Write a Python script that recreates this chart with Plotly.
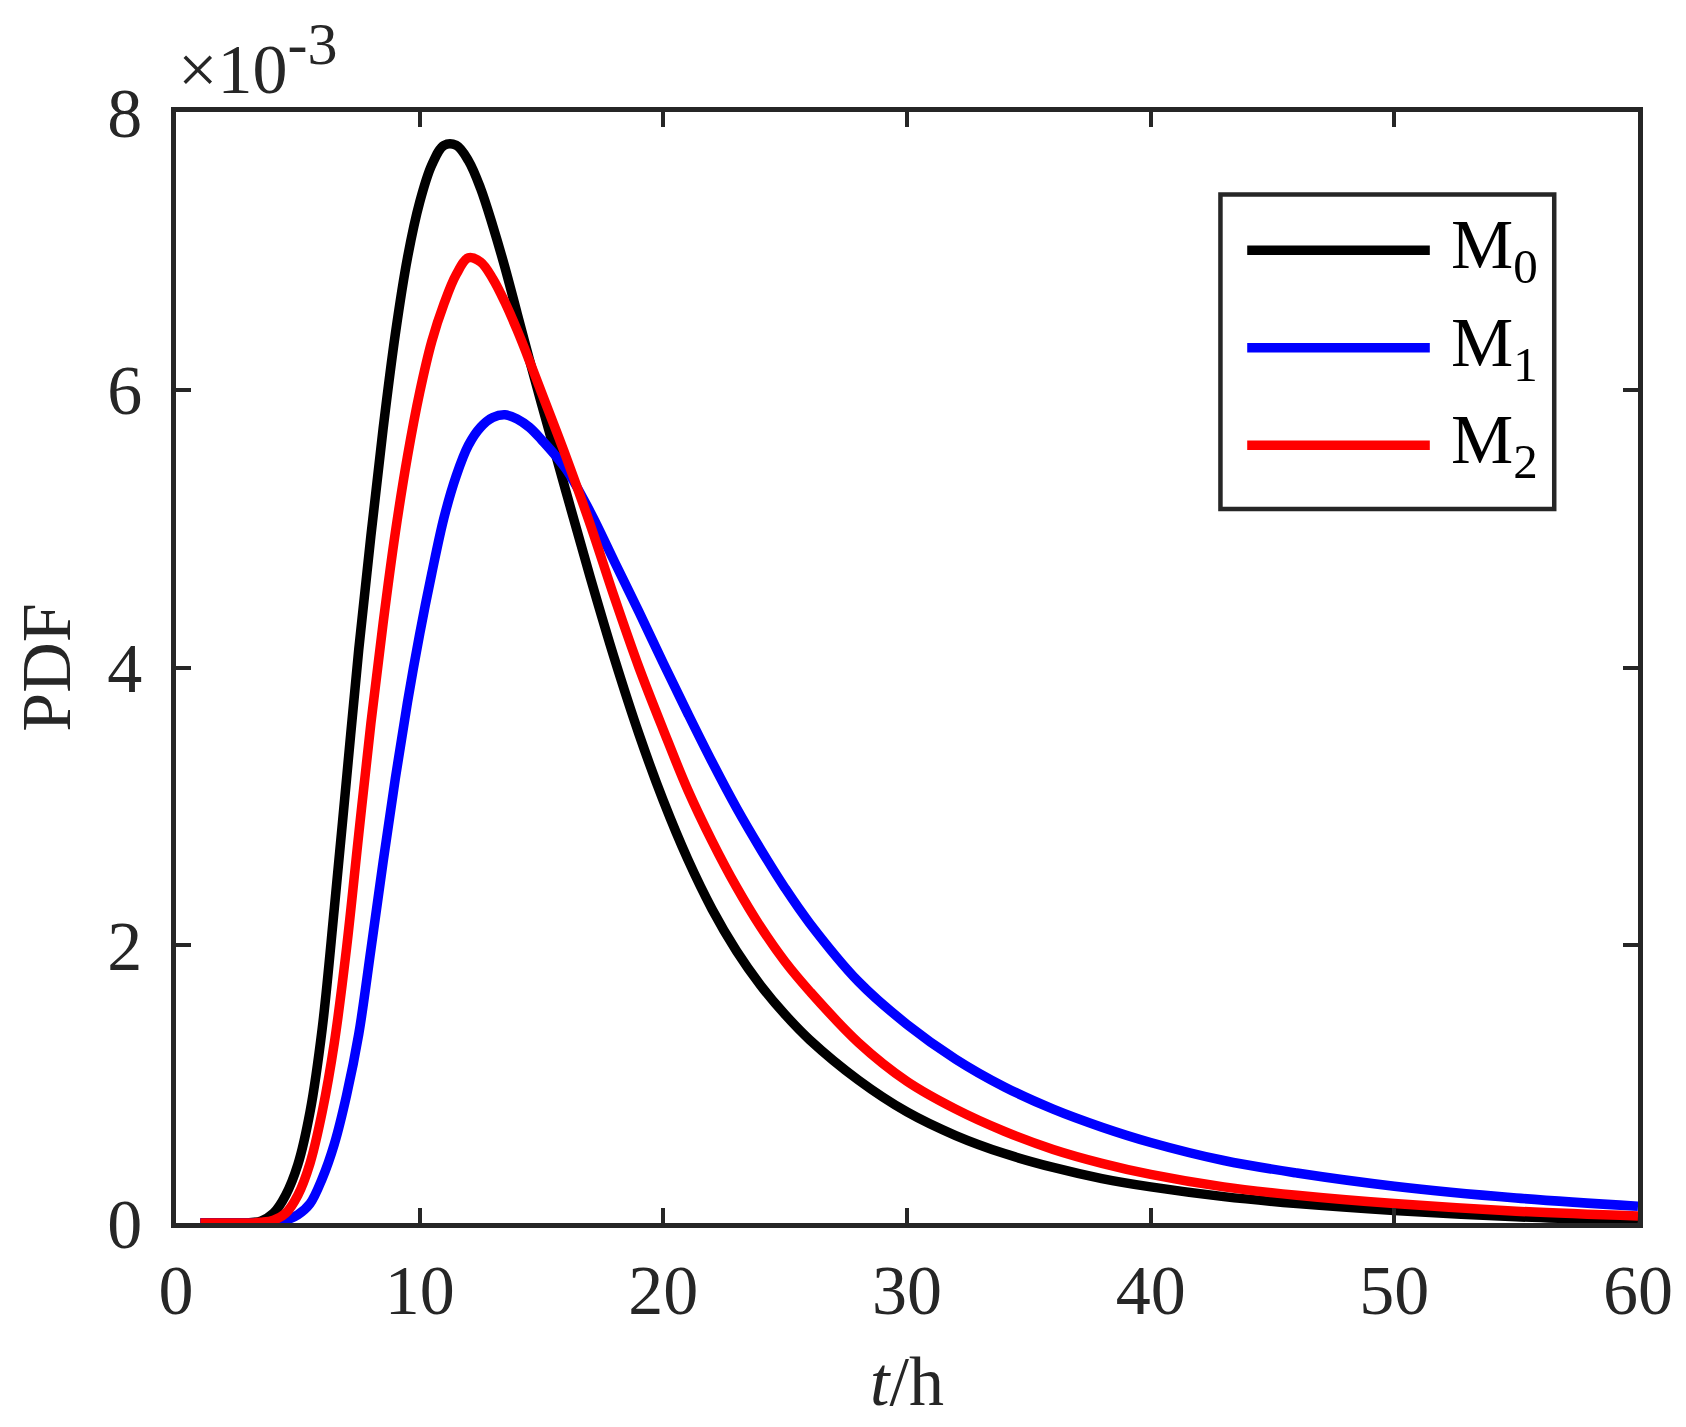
import plotly.graph_objects as go

# time grid (h)
t = [1, 2, 3, 3.5, 4, 4.5, 5, 5.5, 6, 6.5, 7, 7.5, 8, 8.5, 9, 9.5, 10, 10.5,
     11, 11.5, 12, 12.5, 13, 13.5, 14, 14.5, 15, 16, 17, 18, 19, 20, 21, 22,
     23, 24, 25, 26, 28, 30, 32, 34, 36, 38, 40, 43, 46, 50, 55, 60]

# PDF values, in units of 1e-3
pdf_m0 = [0, 0, 0.002, 0.015, 0.07, 0.2, 0.42, 0.8, 1.4, 2.27, 3.2, 4.13, 4.95, 5.72,
          6.4, 6.95, 7.35, 7.62, 7.76, 7.76, 7.65, 7.45, 7.18, 6.88, 6.55, 6.22, 5.9,
          5.27, 4.65, 4.06, 3.52, 3.04, 2.62, 2.26, 1.96, 1.71, 1.5, 1.32, 1.03, 0.8,
          0.63, 0.5, 0.4, 0.32, 0.26, 0.19, 0.14, 0.09, 0.045, 0.018]
pdf_m1 = [0, 0, 0, 0, 0.005, 0.02, 0.06, 0.14, 0.32, 0.57, 0.92, 1.36, 1.97, 2.6,
          3.2, 3.75, 4.24, 4.68, 5.08, 5.38, 5.6, 5.73, 5.8, 5.82, 5.79, 5.73, 5.64,
          5.43, 5.12, 4.76, 4.4, 4.03, 3.67, 3.32, 2.99, 2.69, 2.41, 2.16, 1.74, 1.43,
          1.18, 0.98, 0.82, 0.69, 0.58, 0.45, 0.36, 0.265, 0.18, 0.12]
pdf_m2 = [0, 0, 0, 0.005, 0.02, 0.07, 0.2, 0.43, 0.8, 1.3, 1.98, 2.8, 3.6, 4.32,
          4.97, 5.52, 5.98, 6.35, 6.62, 6.83, 6.95, 6.92, 6.8, 6.63, 6.43, 6.21, 5.98,
          5.52, 5.03, 4.5, 4.0, 3.55, 3.12, 2.75, 2.42, 2.13, 1.88, 1.67, 1.3, 1.02,
          0.82, 0.66, 0.53, 0.43, 0.35, 0.26, 0.2, 0.14, 0.085, 0.05]

names = ['M<sub>0</sub>', 'M<sub>1</sub>', 'M<sub>2</sub>']
colors = ['#000000', '#0000FF', '#FF0000']
series = [pdf_m0, pdf_m1, pdf_m2]

x_ticks = [0, 10, 20, 30, 40, 50, 60]
y_ticks = [0, 2, 4, 6, 8]

FONT = 'Liberation Serif'
AX = '#262626'
FS = 70

fig = go.Figure()
for name, col, vals in zip(names, colors, series):
    fig.add_trace(go.Scatter(
        x=t, y=[v * 1e-3 for v in vals], mode='lines', name=name,
        line=dict(color=col, width=9.5, shape='spline', smoothing=1.0),
        showlegend=False,
    ))

axis_common = dict(
    showline=True, mirror='ticks', linecolor=AX, linewidth=4.5,
    ticks='inside', ticklen=15, tickwidth=3.5, tickcolor=AX,
    showgrid=False, zeroline=False,
    tickfont=dict(family=FONT, size=FS, color=AX),
)

fig.update_layout(
    width=1686, height=1427,
    margin=dict(l=168, r=56, t=104, b=212),
    paper_bgcolor='white', plot_bgcolor='white',
    font=dict(family=FONT, color=AX),
    xaxis=dict(range=[0, 60], tickvals=x_ticks, ticklabelstandoff=2,
               title=dict(text='<i>t</i>/h', font=dict(family=FONT, size=FS, color=AX),
                          standoff=30),
               **axis_common),
    yaxis=dict(range=[0, 8e-3], tickvals=[v * 1e-3 for v in y_ticks],
               ticktext=[str(v) for v in y_ticks], ticklabelstandoff=15,
               title=dict(text='PDF', font=dict(family=FONT, size=FS, color=AX),
                          standoff=34),
               **axis_common),
)

# exponent label
fig.add_annotation(xref='paper', yref='paper', x=0, y=1, xanchor='left', yanchor='bottom',
                   yshift=2,
                   text='\u00d710<sup><span style="font-size:60px">-3</span></sup>',
                   showarrow=False, font=dict(family=FONT, size=FS, color=AX))

# legend drawn by hand so the line samples are long like the original
fig.add_shape(type='rect', xref='paper', yref='paper', x0=0.7144, x1=0.9427,
              y0=0.6426, y1=0.9258, line=dict(color=AX, width=4.5), fillcolor='white')
row_y = [0.8755, 0.7878, 0.7001]
for name, col, ry in zip(names, colors, row_y):
    fig.add_shape(type='line', xref='paper', yref='paper', x0=0.7327, x1=0.8576,
                  y0=ry, y1=ry, line=dict(color=col, width=9.5))
    fig.add_annotation(xref='paper', yref='paper', x=0.8708, y=ry, xanchor='left',
                       yanchor='middle', text=name, showarrow=False,
                       font=dict(family=FONT, size=FS, color='#000000'))

fig.write_html('out.html')
